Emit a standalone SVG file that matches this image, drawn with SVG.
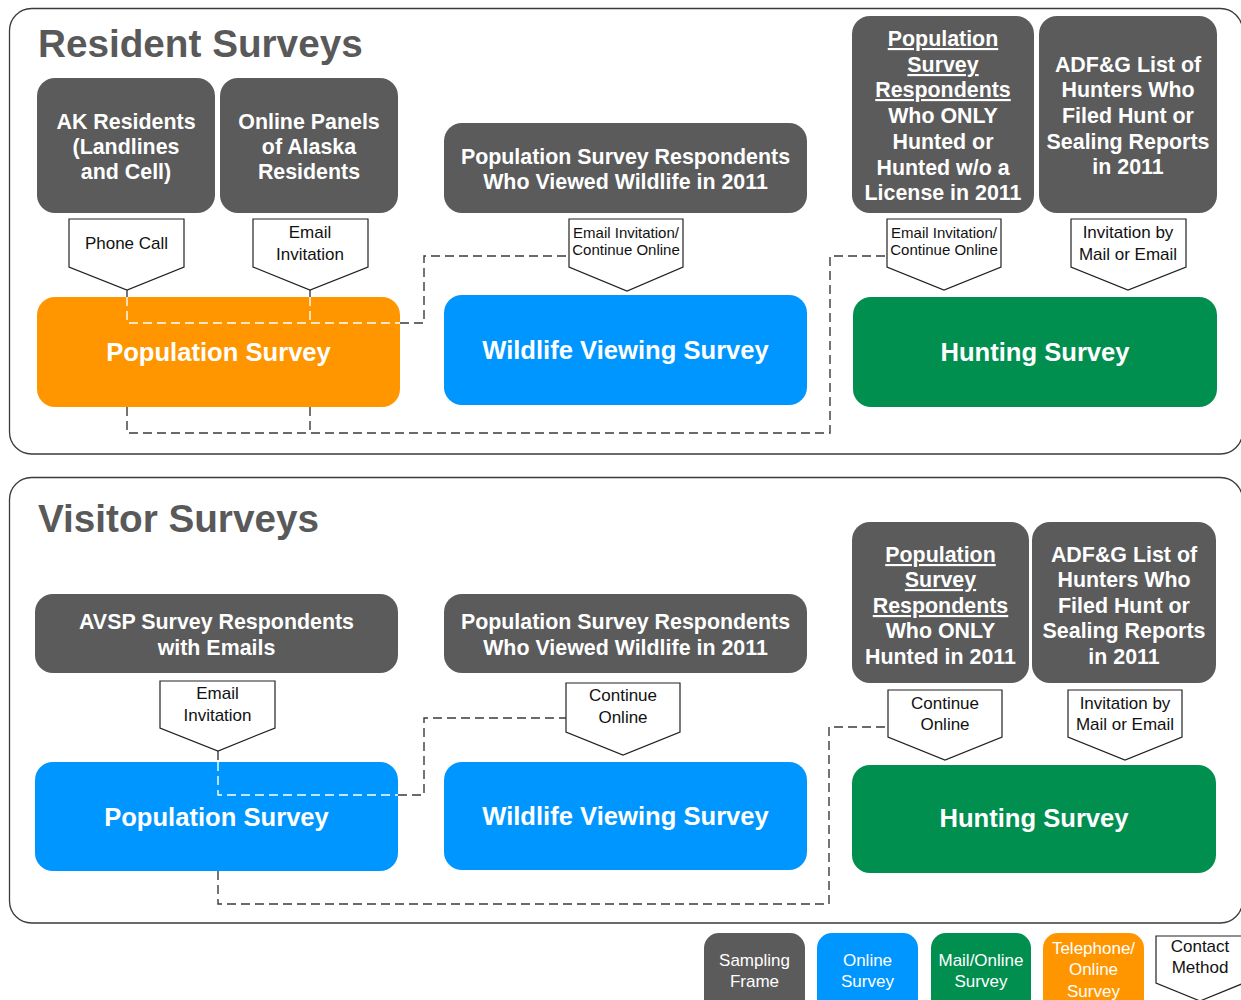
<svg xmlns="http://www.w3.org/2000/svg" width="1241" height="1000" viewBox="0 0 1241 1000">
<style>
text{font-family:"Liberation Sans",Arial,sans-serif;}
.panel{fill:#fff;stroke:#3a3a3a;stroke-width:1.3;}
.title{font-size:38.7px;font-weight:bold;fill:#595959;}
.frame{fill:#5b5b5b;}
.ft{font-size:21.4px;font-weight:bold;fill:#fff;text-anchor:middle;}
.u{text-decoration:underline;}
.big{font-size:25.6px;font-weight:bold;fill:#fff;text-anchor:middle;}
.orange{fill:#ff9600;}
.blue{fill:#0096ff;}
.green{fill:#008f4f;}
.cm{fill:#fff;stroke:#222;stroke-width:1.2;}
.ct{font-size:17px;fill:#111;text-anchor:middle;}
.cs{font-size:15px;fill:#111;text-anchor:middle;}
.lt{font-size:17px;fill:#fff;text-anchor:middle;}
.dk{fill:none;stroke:#3a3a3a;stroke-width:1.4;stroke-dasharray:9,5;}
.wt{fill:none;stroke:#fff;stroke-width:1.4;stroke-dasharray:9,5;}
</style>

<rect class="panel" x="9.5" y="8.5" width="1233" height="445.5" rx="22"/>
<rect class="panel" x="9.5" y="477.5" width="1233" height="445.5" rx="22"/>
<text class="title" x="38" y="57">Resident Surveys</text>
<text class="title" x="38" y="532">Visitor Surveys</text>

<!-- Resident sampling frames -->
<g id="ak-residents">
<rect class="frame" x="37" y="78" width="178" height="135" rx="18"/>
<text class="ft" x="126" y="129">AK Residents</text>
<text class="ft" x="126" y="154">(Landlines</text>
<text class="ft" x="126" y="179">and Cell)</text>
</g>
<g id="online-panels">
<rect class="frame" x="220" y="78" width="178" height="135" rx="18"/>
<text class="ft" x="309" y="129">Online Panels</text>
<text class="ft" x="309" y="154">of Alaska</text>
<text class="ft" x="309" y="179">Residents</text>
</g>
<g id="res-wildlife-frame">
<rect class="frame" x="444" y="123" width="363" height="90" rx="18"/>
<text class="ft" x="625.5" y="164">Population Survey Respondents</text>
<text class="ft" x="625.5" y="189">Who Viewed Wildlife in 2011</text>
</g>
<g id="res-hunt-frame">
<rect class="frame" x="852" y="16" width="182" height="197" rx="18"/>
<text class="ft u" x="943" y="46">Population</text>
<text class="ft u" x="943" y="72">Survey</text>
<text class="ft u" x="943" y="97">Respondents</text>
<text class="ft" x="943" y="123">Who ONLY</text>
<text class="ft" x="943" y="149">Hunted or</text>
<text class="ft" x="943" y="175">Hunted w/o a</text>
<text class="ft" x="943" y="200">License in 2011</text>
</g>
<g id="res-adfg-frame">
<rect class="frame" x="1039" y="16" width="178" height="197" rx="18"/>
<text class="ft" x="1128" y="72">ADF&amp;G List of</text>
<text class="ft" x="1128" y="97">Hunters Who</text>
<text class="ft" x="1128" y="123">Filed Hunt or</text>
<text class="ft" x="1128" y="149">Sealing Reports</text>
<text class="ft" x="1128" y="174">in 2011</text>
</g>

<!-- Resident surveys -->
<g id="res-population-survey">
<rect class="orange" x="37" y="297" width="363" height="110" rx="18"/>
<text class="big" x="218.5" y="361">Population Survey</text>
</g>
<g id="res-wildlife-survey">
<rect class="blue" x="444" y="295" width="363" height="110" rx="18"/>
<text class="big" x="625.5" y="359">Wildlife Viewing Survey</text>
</g>
<g id="res-hunting-survey">
<rect class="green" x="853" y="297" width="364" height="110" rx="18"/>
<text class="big" x="1035" y="361">Hunting Survey</text>
</g>

<!-- Resident contact methods -->
<g id="res-phone-call">
<polygon class="cm" points="69,219 184,219 184,267 127,290 69,267"/>
<text class="ct" x="126.5" y="249">Phone Call</text>
</g>
<g id="res-email-invitation">
<polygon class="cm" points="253,219 368,219 368,267 310,290 253,267"/>
<text class="ct" x="310" y="238">Email</text>
<text class="ct" x="310" y="260">Invitation</text>
</g>
<g id="res-wildlife-contact">
<polygon class="cm" points="569,219 683,219 683,267 627,291 569,267"/>
<text class="cs" x="626" y="238">Email Invitation/</text>
<text class="cs" x="626" y="255">Continue Online</text>
</g>
<g id="res-hunt-contact">
<polygon class="cm" points="887,219 1001,219 1001,267 944,290 887,267"/>
<text class="cs" x="944" y="238">Email Invitation/</text>
<text class="cs" x="944" y="255">Continue Online</text>
</g>
<g id="res-adfg-contact">
<polygon class="cm" points="1071,219 1186,219 1186,267 1128,290 1071,267"/>
<text class="ct" x="1128" y="238">Invitation by</text>
<text class="ct" x="1128" y="260">Mail or Email</text>
</g>

<!-- Visitor sampling frames -->
<g id="avsp-frame">
<rect class="frame" x="35" y="594" width="363" height="79" rx="18"/>
<text class="ft" x="216.5" y="629">AVSP Survey Respondents</text>
<text class="ft" x="216.5" y="655">with Emails</text>
</g>
<g id="vis-wildlife-frame">
<rect class="frame" x="444" y="594" width="363" height="79" rx="18"/>
<text class="ft" x="625.5" y="629">Population Survey Respondents</text>
<text class="ft" x="625.5" y="655">Who Viewed Wildlife in 2011</text>
</g>
<g id="vis-hunt-frame">
<rect class="frame" x="852" y="522" width="177" height="161" rx="18"/>
<text class="ft u" x="940.5" y="562">Population</text>
<text class="ft u" x="940.5" y="587">Survey</text>
<text class="ft u" x="940.5" y="613">Respondents</text>
<text class="ft" x="940.5" y="638">Who ONLY</text>
<text class="ft" x="940.5" y="664">Hunted in 2011</text>
</g>
<g id="vis-adfg-frame">
<rect class="frame" x="1032" y="522" width="184" height="161" rx="18"/>
<text class="ft" x="1124" y="562">ADF&amp;G List of</text>
<text class="ft" x="1124" y="587">Hunters Who</text>
<text class="ft" x="1124" y="613">Filed Hunt or</text>
<text class="ft" x="1124" y="638">Sealing Reports</text>
<text class="ft" x="1124" y="664">in 2011</text>
</g>

<!-- Visitor surveys -->
<g id="vis-population-survey">
<rect class="blue" x="35" y="762" width="363" height="109" rx="18"/>
<text class="big" x="216.5" y="826">Population Survey</text>
</g>
<g id="vis-wildlife-survey">
<rect class="blue" x="444" y="762" width="363" height="108" rx="18"/>
<text class="big" x="625.5" y="825">Wildlife Viewing Survey</text>
</g>
<g id="vis-hunting-survey">
<rect class="green" x="852" y="765" width="364" height="108" rx="18"/>
<text class="big" x="1034" y="827">Hunting Survey</text>
</g>

<!-- Visitor contact methods -->
<g id="vis-email-invitation">
<polygon class="cm" points="160,681 275,681 275,728 218,751 160,728"/>
<text class="ct" x="217.5" y="699">Email</text>
<text class="ct" x="217.5" y="721">Invitation</text>
</g>
<g id="vis-wildlife-contact">
<polygon class="cm" points="566,683 680,683 680,732 623,755 566,732"/>
<text class="ct" x="623" y="701">Continue</text>
<text class="ct" x="623" y="723">Online</text>
</g>
<g id="vis-hunt-contact">
<polygon class="cm" points="888,690 1002,690 1002,737 945,760 888,737"/>
<text class="ct" x="945" y="709">Continue</text>
<text class="ct" x="945" y="730">Online</text>
</g>
<g id="vis-adfg-contact">
<polygon class="cm" points="1068,690 1182,690 1182,737 1125,760 1068,737"/>
<text class="ct" x="1125" y="709">Invitation by</text>
<text class="ct" x="1125" y="730">Mail or Email</text>
</g>

<!-- Connectors -->
<g id="connectors">
<path class="dk" d="M127,290 V297"/>
<path class="dk" d="M310,290 V297"/>
<path class="wt" d="M127,297 V323 H400"/>
<path class="wt" d="M310,297 V323"/>
<path class="dk" d="M400,323 H424 V256 H569"/>
<path class="dk" d="M127,407 V433 H830 V256 H887"/>
<path class="dk" d="M310,407 V433"/>
<path class="dk" d="M218,751 V762"/>
<path class="wt" d="M218,762 V795 H398"/>
<path class="dk" d="M398,795 H424 V718 H566"/>
<path class="dk" d="M218,871 V904 H829 V727 H888"/>
</g>

<!-- Legend -->
<g id="legend-sampling-frame">
<rect class="frame" x="704" y="933" width="101" height="80" rx="15"/>
<text class="lt" x="754.5" y="966">Sampling</text>
<text class="lt" x="754.5" y="987">Frame</text>
</g>
<g id="legend-online-survey">
<rect class="blue" x="817" y="933" width="101" height="80" rx="15"/>
<text class="lt" x="867.5" y="966">Online</text>
<text class="lt" x="867.5" y="987">Survey</text>
</g>
<g id="legend-mail-online-survey">
<rect class="green" x="931" y="933" width="100" height="80" rx="15"/>
<text class="lt" x="981" y="966">Mail/Online</text>
<text class="lt" x="981" y="987">Survey</text>
</g>
<g id="legend-telephone-online-survey">
<rect class="orange" x="1043" y="933" width="101" height="80" rx="15"/>
<text class="lt" x="1093.5" y="954">Telephone/</text>
<text class="lt" x="1093.5" y="975">Online</text>
<text class="lt" x="1093.5" y="997">Survey</text>
</g>
<g id="legend-contact-method">
<polygon class="cm" points="1156,936 1244,936 1244,983 1200,1001 1156,983"/>
<text class="ct" x="1200" y="952">Contact</text>
<text class="ct" x="1200" y="973">Method</text>
</g>
</svg>
